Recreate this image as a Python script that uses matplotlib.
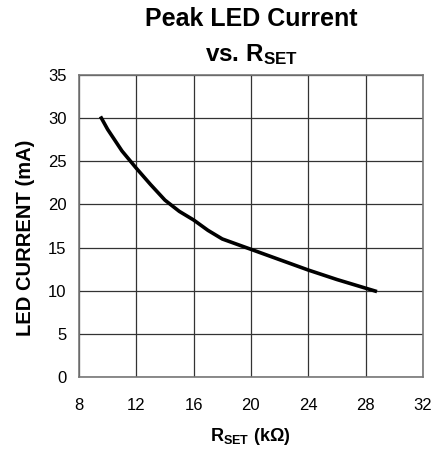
import matplotlib
matplotlib.use("Agg")
import matplotlib.pyplot as plt

# Peak LED current vs RSET
rset_k = [9.5, 10, 11, 12, 13, 14, 15, 16, 17, 18, 20, 22, 24, 26, 28, 28.8]
led_ma = [30.2, 28.7, 26.2, 24.2, 22.3, 20.5, 19.2, 18.2, 17.0, 16.0, 14.8, 13.6, 12.4, 11.3, 10.3, 9.9]

x_ticks = [8, 12, 16, 20, 24, 28, 32]
y_ticks = [0, 5, 10, 15, 20, 25, 30, 35]

plt.rcParams['font.family'] = ['Liberation Sans', 'DejaVu Sans']
plt.rcParams['mathtext.fontset'] = 'custom'
plt.rcParams['mathtext.rm'] = 'Liberation Sans:bold'
plt.rcParams['mathtext.it'] = 'Liberation Sans:bold'
plt.rcParams['mathtext.bf'] = 'Liberation Sans:bold'

fig = plt.figure(figsize=(4.4, 4.5), dpi=100)
ax = fig.add_axes([0.1795, 0.1622, 0.7815, 0.6711])

ax.plot(rset_k, led_ma, color='black', linewidth=2.6, solid_capstyle='butt')

ax.set_xlim(8, 32)
ax.set_ylim(0, 35)
ax.set_xticks(x_ticks)
ax.set_yticks(y_ticks)
ax.grid(True, color='#333333', linewidth=0.9)
ax.set_axisbelow(True)
for s in ax.spines.values():
    s.set_color('#777777')
    s.set_linewidth(1.2)
ax.tick_params(length=0, labelsize=12)
ax.tick_params(axis='x', pad=15)
ax.tick_params(axis='y', pad=9)

# axis labels placed in figure coords
fig.text(0.059, 0.472, 'LED CURRENT (mA)', rotation=90, ha='center', va='center',
         fontsize=14.5, fontweight='bold')
fig.text(0.57, 0.029, r'$\mathrm{R_{SET}}$ (kΩ)', ha='center', va='center',
         fontsize=13, fontweight='bold')

fig.text(0.572, 0.957, 'Peak LED Current', ha='center', va='center', fontsize=18, fontweight='bold')
fig.text(0.572, 0.878, r'vs. $\mathrm{R_{SET}}$', ha='center', va='center', fontsize=17.5, fontweight='bold')

fig.savefig('out.png', dpi=100)
